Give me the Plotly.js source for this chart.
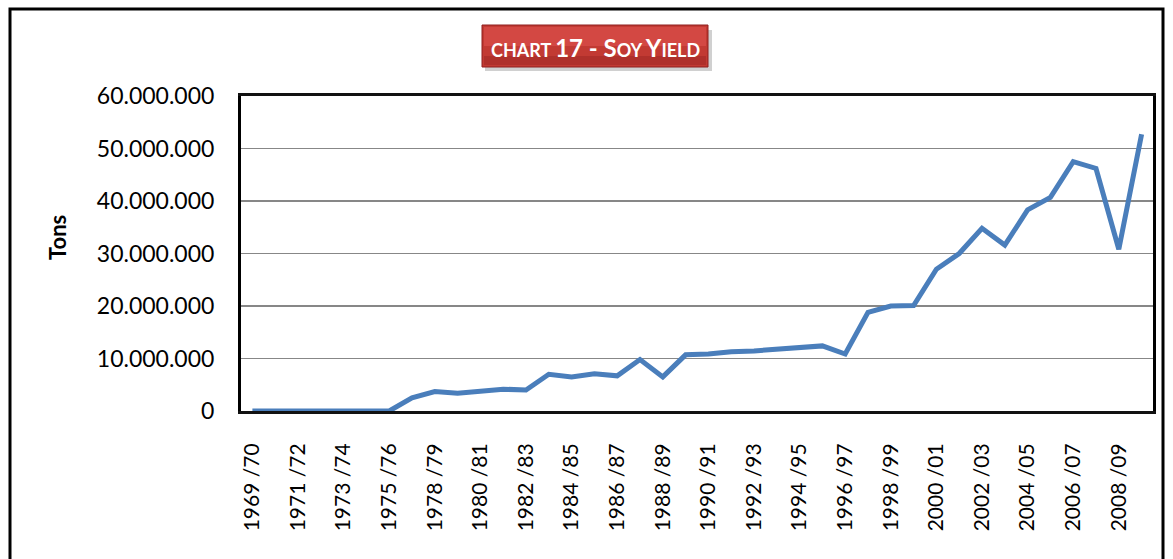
<!DOCTYPE html>
<html>
<head>
<meta charset="utf-8">
<script src="https://cdn.plot.ly/plotly-3.0.1.min.js"></script>
<style>
html,body{margin:0;padding:0;background:#fff;}
#chart{width:1173px;height:559px;}
</style>
</head>
<body>
<div id="chart"></div>
<script>
const seasons = [
  "1969 /70","1970 /71","1971 /72","1972 /73","1973 /74","1974 /75","1975 /76","1977 /78",
  "1978 /79","1979 /80","1980 /81","1981 /82","1982 /83","1983 /84","1984 /85","1985 /86",
  "1986 /87","1987 /88","1988 /89","1989 /90","1990 /91","1991 /92","1992 /93","1993 /94",
  "1994 /95","1995 /96","1996 /97","1997 /98","1998 /99","1999 /00","2000 /01","2001 /02",
  "2002 /03","2003 /04","2004 /05","2005 /06","2006 /07","2007 /08","2008 /09","2009 /10"
];
const yieldTons = [
  0, 0, 0, 0, 0, 0, 0, 2500000,
  3700000, 3400000, 3750000, 4150000, 4000000, 7000000, 6500000, 7100000,
  6700000, 9800000, 6500000, 10700000, 10850000, 11300000, 11450000, 11700000,
  12100000, 12400000, 10850000, 18800000, 20000000, 20100000, 27000000, 30000000,
  34800000, 31600000, 38300000, 40700000, 47500000, 46200000, 30800000, 52700000
];
const tickLabels = seasons.filter((s, i) => i % 2 === 0);
const yTicks = [0, 10000000, 20000000, 30000000, 40000000, 50000000, 60000000];

const W = 1173, H = 559, L = 241, R = 20, T = 96, B = 148;
const pw = W - L - R, ph = H - T - B;
const px = v => (v - L) / pw;
const py = v => (H - B - v) / ph;

const shapes = [
  {type:'rect', xref:'paper', yref:'paper', x0:px(10), x1:px(1163), y0:py(600), y1:py(9),
   line:{color:'#000', width:3}, fillcolor:'rgba(0,0,0,0)', layer:'below'},
  {type:'rect', xref:'paper', yref:'paper', x0:px(485), x1:px(712), y0:py(71), y1:py(30),
   line:{width:0}, fillcolor:'rgba(120,120,120,0.35)'},
  {type:'rect', xref:'paper', yref:'paper', x0:px(482), x1:px(708), y0:py(67), y1:py(25),
   line:{color:'#8e1f1f', width:1}, fillcolor:'#c23a33'},
  {type:'rect', xref:'paper', yref:'paper', x0:px(484), x1:px(706), y0:py(46), y1:py(27),
   line:{width:0}, fillcolor:'rgba(232,92,86,0.45)'},
  {type:'rect', xref:'paper', yref:'paper', x0:px(484), x1:px(706), y0:py(65), y1:py(56),
   line:{width:0}, fillcolor:'rgba(120,20,20,0.25)'}
];

const big = 'font-size:24px';
const titleText = '<b>CHART <span style="' + big + '">17 - S</span>OY <span style="' + big + '">Y</span>IELD</b>';

const annotations = [
  {xref:'paper', yref:'paper', x:px(595), y:py(47), text:titleText, showarrow:false,
   font:{family:'Lato, sans-serif', size:18, color:'#fff'}, xanchor:'center', yanchor:'middle'},
  {xref:'paper', yref:'paper', x:px(58), y:py(238), text:'<b>Tons</b>', showarrow:false,
   textangle:-90, font:{family:'Lato, sans-serif', size:22, color:'#000'}, xanchor:'center', yanchor:'middle'}
];

const trace = {
  x: seasons, y: yieldTons, type:'scatter', mode:'lines',
  line:{color:'#4a7ebb', width:5}, hoverinfo:'x+y'
};

const layout = {
  width:W, height:H,
  margin:{l:L, r:R, t:T, b:B},
  paper_bgcolor:'#fff', plot_bgcolor:'#fff',
  separators:',.',
  showlegend:false,
  font:{family:'Lato, sans-serif', color:'#000'},
  xaxis:{
    type:'category', range:[-0.5, seasons.length - 0.5],
    tickmode:'array', tickvals:tickLabels, ticktext:tickLabels,
    tickangle:-90, tickfont:{family:'Lato, sans-serif', size:21, color:'#000'},
    showgrid:false, zeroline:false, ticks:'', ticklabelstandoff:21,
    showline:true, linecolor:'#111', linewidth:3, mirror:true
  },
  yaxis:{
    range:[0, 60000000], tickmode:'array', tickvals:yTicks, tickformat:',d',
    tickfont:{family:'Lato, sans-serif', size:23, color:'#000'},
    showgrid:true, gridcolor:'#878787', gridwidth:1.8, zeroline:false, ticks:'',
    ticklabelstandoff:19,
    showline:true, linecolor:'#000', linewidth:3, mirror:true
  },
  shapes:shapes, annotations:annotations
};

Plotly.newPlot('chart', [trace], layout, {displayModeBar:false, staticPlot:true});
</script>
</body>
</html>
